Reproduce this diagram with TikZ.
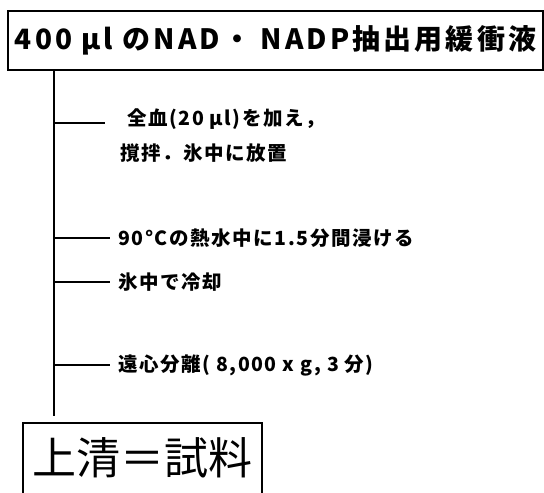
\documentclass[tikz,border=0pt]{standalone}
\usepackage{fontspec}
\setmainfont{Noto Sans CJK JP}
\newfontfamily\jpb[LetterSpace=11]{Noto Sans CJK JP}
\newfontfamily\jps[LetterSpace=8]{Noto Sans CJK JP}
\begin{document}
\begin{tikzpicture}[x=1pt,y=-1pt,
  ln/.style={line width=1.6pt},
  lbl/.style={anchor=west,inner sep=0pt,font=\jps\bfseries\fontsize{19.5}{35}\selectfont,align=left}]
\useasboundingbox (0,0) rectangle (544,493);
\node[draw,ln,minimum width=535pt,minimum height=59pt,inner sep=0pt,
  font=\jpb\bfseries\fontsize{28}{30}\selectfont] (top) at (275.5,40.5) {400 µl のNAD・ NADP抽出用緩衝液};
\node[minimum width=239pt,minimum height=70pt,inner sep=0pt,
  font=\fontsize{44}{48}\selectfont] (res) at (142.5,458) {上清＝試料};
\draw[ln] (res.south west) -- (res.north west) -- (res.north east) -- (res.south east);
\coordinate (vend) at (54,416);
\draw[ln] (top.south -| vend) -- (vend);
\node[lbl] (t1) at (120,136) {\hspace{7pt}全血(20 µl)を加え，\\撹拌．氷中に放置};
\node[lbl] (t2) at (118,238) {90°Cの熱水中に1.5分間浸ける};
\node[lbl] (t3) at (118,282) {氷中で冷却};
\node[lbl] (t4) at (118,365) {遠心分離( 8,000 x g, 3 分)};
\coordinate (b1) at (54,123);
\draw[ln] (b1) -- (105,123);
\draw[ln] (t2.west -| vend) -- ([xshift=-8pt]t2.west);
\draw[ln] (t3.west -| vend) -- ([xshift=-8pt]t3.west);
\draw[ln] (t4.west -| vend) -- ([xshift=-8pt]t4.west);
\end{tikzpicture}
\end{document}
